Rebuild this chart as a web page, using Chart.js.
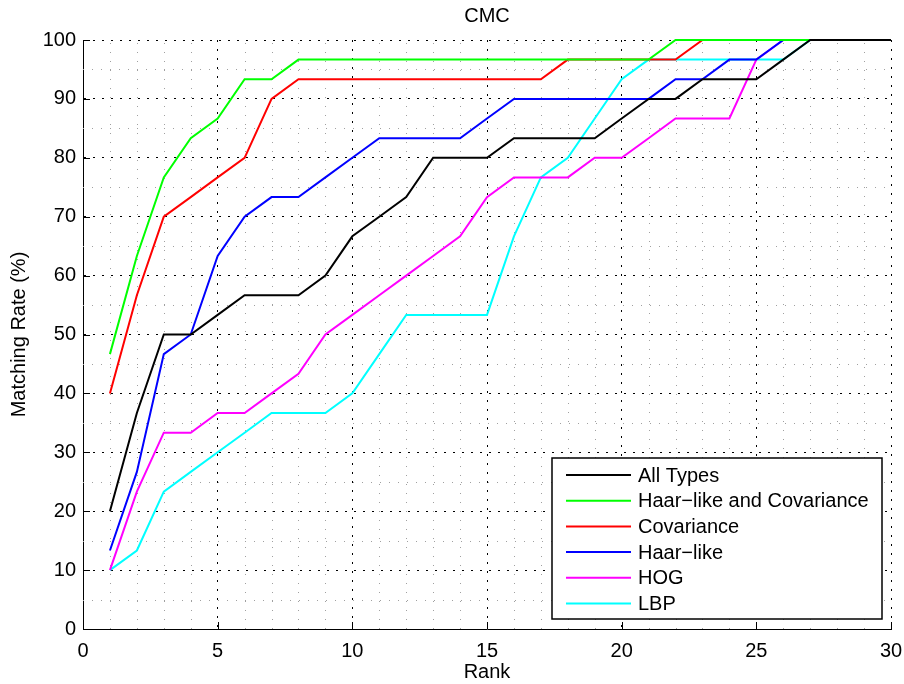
<!DOCTYPE html>
<html>
<head>
<meta charset="utf-8">
<script src="https://cdn.jsdelivr.net/npm/chart.js@4/dist/chart.umd.min.js"></script>
<style>
  body { margin: 0; background: #fff; }
  canvas { display: block; }
</style>
</head>
<body>
<canvas id="cmc" width="904" height="684"></canvas>
<script>
// Chart data
const ranks = [1, 2, 3, 4, 5, 6, 7, 8, 9, 10, 11, 12, 13, 14, 15, 16, 17, 18, 19, 20, 21, 22, 23, 24, 25, 26, 27, 28, 29, 30];
const seriesNames = ["All Types", "Haar\u2212like and Covariance", "Covariance", "Haar\u2212like", "HOG", "LBP"];
const seriesColors = ["#000000", "#00ff00", "#ff0000", "#0000ff", "#ff00ff", "#00ffff"];

const allTypes = [20, 36.67, 50, 50, 53.33, 56.67, 56.67, 56.67, 60, 66.67, 70, 73.33, 80, 80, 80, 83.33, 83.33, 83.33, 83.33, 86.67, 90, 90, 93.33, 93.33, 93.33, 96.67, 100, 100, 100, 100];
const haarCov = [46.67, 63.33, 76.67, 83.33, 86.67, 93.33, 93.33, 96.67, 96.67, 96.67, 96.67, 96.67, 96.67, 96.67, 96.67, 96.67, 96.67, 96.67, 96.67, 96.67, 96.67, 100, 100, 100, 100, 100, 100, 100, 100, 100];
const covariance = [40, 56.67, 70, 73.33, 76.67, 80, 90, 93.33, 93.33, 93.33, 93.33, 93.33, 93.33, 93.33, 93.33, 93.33, 93.33, 96.67, 96.67, 96.67, 96.67, 96.67, 100, 100, 100, 100, 100, 100, 100, 100];
const haarLike = [13.33, 26.67, 46.67, 50, 63.33, 70, 73.33, 73.33, 76.67, 80, 83.33, 83.33, 83.33, 83.33, 86.67, 90, 90, 90, 90, 90, 90, 93.33, 93.33, 96.67, 96.67, 100, 100, 100, 100, 100];
const hog = [10, 23.33, 33.33, 33.33, 36.67, 36.67, 40, 43.33, 50, 53.33, 56.67, 60, 63.33, 66.67, 73.33, 76.67, 76.67, 76.67, 80, 80, 83.33, 86.67, 86.67, 86.67, 96.67, 100, 100, 100, 100, 100];
const lbp = [10, 13.33, 23.33, 26.67, 30, 33.33, 36.67, 36.67, 36.67, 40, 46.67, 53.33, 53.33, 53.33, 53.33, 66.67, 76.67, 80, 86.67, 93.33, 96.67, 96.67, 96.67, 96.67, 96.67, 96.67, 100, 100, 100, 100];

const seriesValues = [allTypes, haarCov, covariance, haarLike, hog, lbp];

const FONT = "'Liberation Sans', Arial, Helvetica, sans-serif";
Chart.defaults.font.family = FONT;
Chart.defaults.font.size = 20;
Chart.defaults.color = "#000";

function toPoints(values) {
    return values.map((v, i) => ({ x: ranks[i], y: v }));
}

// Minor grid (grey dots) + inward tick marks, like MATLAB
const matlabGrid = {
    id: "matlabGrid",
    beforeDatasetsDraw(chart) {
        const ctx = chart.ctx;
        const area = chart.chartArea;
        const xs = chart.scales.x;
        const ys = chart.scales.y;
        ctx.save();
        ctx.strokeStyle = "#a0a0a0";
        ctx.lineWidth = 1;
        ctx.setLineDash([1, 8]);
        for (let v = 1; v < 30; v++) {
            if (v % 5 == 0) continue;
            const px = Math.round(xs.getPixelForValue(v)) + 0.5;
            ctx.beginPath();
            ctx.moveTo(px, area.bottom);
            ctx.lineTo(px, area.top);
            ctx.stroke();
        }
        for (let v = 5; v < 100; v += 10) {
            const py = Math.round(ys.getPixelForValue(v)) + 0.5;
            ctx.beginPath();
            ctx.moveTo(area.left, py);
            ctx.lineTo(area.right, py);
            ctx.stroke();
        }
        // inward ticks
        ctx.setLineDash([]);
        ctx.strokeStyle = "#000";
        for (let v = 0; v <= 30; v += 5) {
            const px = Math.round(xs.getPixelForValue(v)) + 0.5;
            ctx.beginPath();
            ctx.moveTo(px, area.bottom);
            ctx.lineTo(px, area.bottom - 7);
            ctx.stroke();
        }
        for (let v = 0; v <= 100; v += 10) {
            const py = Math.round(ys.getPixelForValue(v)) + 0.5;
            ctx.beginPath();
            ctx.moveTo(area.left, py);
            ctx.lineTo(area.left + 7, py);
            ctx.stroke();
        }
        ctx.restore();
    }
};

// Legend box in the lower right corner of the axes
const boxLegend = {
    id: "boxLegend",
    afterDraw(chart) {
        const ctx = chart.ctx;
        const area = chart.chartArea;
        const w = 330, h = 161;
        const left = area.right - 9 - w;
        const top = area.bottom - 10 - h;
        ctx.save();
        ctx.fillStyle = "#fff";
        ctx.fillRect(left, top, w, h);
        ctx.strokeStyle = "#000";
        ctx.lineWidth = 1.5;
        ctx.strokeRect(left, top, w, h);
        ctx.font = "20px " + FONT;
        ctx.textBaseline = "middle";
        ctx.textAlign = "left";
        chart.data.datasets.forEach((ds, i) => {
            const cy = top + 17 + i * 25.7;
            ctx.strokeStyle = ds.borderColor;
            ctx.lineWidth = 2;
            ctx.beginPath();
            ctx.moveTo(left + 14, cy);
            ctx.lineTo(left + 79, cy);
            ctx.stroke();
            ctx.fillStyle = "#000";
            ctx.fillText(ds.label, left + 86, cy + 1);
        });
        ctx.restore();
    }
};

const datasets = seriesNames.map((name, i) => ({
    label: name,
    data: toPoints(seriesValues[i]),
    borderColor: seriesColors[i],
    backgroundColor: seriesColors[i],
    borderWidth: 2,
    pointRadius: 0,
    tension: 0,
    fill: false,
    clip: false
}));

new Chart(document.getElementById("cmc"), {
    type: "line",
    data: { datasets: datasets },
    options: {
        responsive: false,
        animation: false,
        layout: { padding: { top: 0, right: 13, bottom: 0, left: 0 } },
        plugins: {
            legend: { display: false },
            tooltip: { enabled: false },
            title: {
                display: true,
                text: "CMC",
                fullSize: false,
                color: "#000",
                font: { size: 20, weight: "normal" },
                padding: { top: 4, bottom: 12 }
            }
        },
        scales: {
            x: {
                type: "linear",
                min: 0,
                max: 30,
                ticks: { stepSize: 5, padding: 10, maxRotation: 0, autoSkip: false },
                grid: { color: "#000", lineWidth: 1, drawTicks: false },
                border: { display: true, color: "#000", width: 1, dash: [2, 7] },
                title: { display: true, text: "Rank", padding: { top: 0, bottom: 0 } },
                afterFit(scale) {
                    scale.height = 55;
                    scale.paddingLeft = 0;
                    scale.paddingRight = 0;
                }
            },
            y: {
                min: 0,
                max: 100,
                ticks: { stepSize: 10, padding: 7 },
                grid: { color: "#000", lineWidth: 1, drawTicks: false },
                border: { display: true, color: "#000", width: 1, dash: [2, 7] },
                title: { display: true, text: "Matching Rate (%)", padding: { top: 7, bottom: 0 } },
                afterFit(scale) {
                    scale.width = 83;
                    scale.paddingTop = 0;
                    scale.paddingBottom = 0;
                }
            }
        }
    },
    plugins: [matlabGrid, boxLegend]
});
</script>
</body>
</html>
